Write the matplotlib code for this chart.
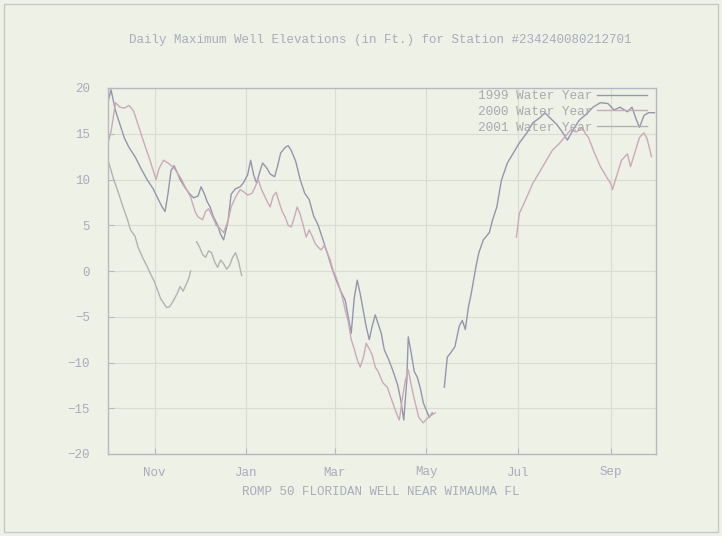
import numpy as np
import matplotlib
matplotlib.use("Agg")
import matplotlib.pyplot as plt
from matplotlib.patches import Rectangle

# ---------------- data (day 0 = Oct 1 of the water year) ----------------
nan = np.nan
wy1999_days = [0, 2, 5, 8, 11, 14, 18, 22, 26, 30, 33, 36, 38, 40, 42, 44, 46, 48, 51, 54,
               57, 60, 62, 64, 66, 68, 70, 73, 75, 77, 80, 82, 85, 88, 90, 93, 95, 97, 99, 101,
               103, 106, 108, 111, 113, 115, 118, 120, 122, 125, 128, 131, 134, 137, 140, 143,
               146, 149, 152, 155, 158, 160, 162, 164, 166, 168, 170, 172, 174, 176, 178, 180,
               182, 184, 187, 190, 193, 195, 197, 199, 200, 202, 204, 206, 208, 210, 212, 214,
               216, 220, 224, 226, 228, 231, 234, 236, 238, 240, 242, 245, 247, 250, 254, 256,
               259, 262, 266, 270, 274, 279, 283, 288, 291, 294, 299, 303, 306, 310, 314, 319,
               323, 328, 333, 337, 341, 346, 349, 352, 354, 357, 360, 364]
wy1999_vals = [18.5, 19.8, 17.5, 16.0, 14.5, 13.5, 12.5, 11.2, 10.0, 9.0, 8.0, 7.0, 6.5, 8.5,
               11.0, 11.5, 10.8, 10.0, 9.2, 8.5, 8.0, 8.2, 9.2, 8.5, 7.6, 7.0, 6.0, 5.0, 4.0,
               3.4, 5.5, 8.4, 9.0, 9.2, 9.6, 10.5, 12.1, 10.5, 9.6, 10.8, 11.8, 11.2, 10.6,
               10.3, 11.5, 12.9, 13.5, 13.7, 13.2, 12.0, 10.0, 8.5, 7.8, 6.0, 5.0, 3.5, 2.0,
               0.4, -1.0, -2.2, -3.2, -5.0, -6.8, -3.0, -1.0, -2.5, -4.3, -6.1, -7.5, -6.0,
               -4.8, -5.8, -6.8, -8.6, -9.7, -11.0, -12.5, -14.1, -16.3, -12.0, -7.2, -9.0,
               -11.0, -11.6, -12.8, -14.4, -15.2, -16.0, -15.5, nan, -12.7, -9.4, -9.0, -8.3,
               -6.0, -5.4, -6.4, -4.0, -2.4, 0.4, 2.0, 3.4, 4.2, 5.5, 7.0, 9.9, 11.8, 12.9,
               14.0, 15.1, 16.2, 16.8, 17.3, 16.8, 16.0, 15.1, 14.3, 15.5, 16.5, 17.2, 17.9,
               18.4, 18.3, 17.6, 17.9, 17.4, 17.9, 16.5, 15.7, 17.0, 17.3, 17.3]

wy2000_days = [0, 2, 5, 8, 11, 14, 17, 19, 22, 25, 28, 30, 32, 34, 37, 40, 43, 46, 49, 52,
               55, 58, 60, 63, 65, 67, 70, 72, 75, 77, 80, 82, 85, 88, 90, 93, 96, 98, 100,
               102, 104, 106, 108, 110, 112, 114, 116, 118, 120, 122, 124, 126, 128, 130, 132,
               134, 136, 138, 140, 142, 144, 146, 148, 150, 152, 154, 156, 158, 160, 162, 164,
               166, 168, 170, 172, 174, 176, 178, 180, 183, 186, 189, 192, 194, 196, 198, 200,
               202, 204, 207, 210, 212, 215, 218, 240, 272, 274, 276, 279, 283, 287, 292, 296,
               301, 304, 308, 312, 316, 318, 320, 324, 328, 332, 335, 336, 339, 342, 346, 348,
               351, 354, 357, 359, 361, 362]
wy2000_vals = [14.0, 15.2, 18.4, 17.9, 17.8, 18.1, 17.5, 16.5, 15.0, 13.5, 12.1, 11.0, 10.0,
               11.2, 12.1, 11.8, 11.4, 10.8, 10.0, 9.0, 8.1, 6.5, 5.9, 5.6, 6.5, 6.8, 5.8, 5.0,
               4.6, 4.2, 5.5, 7.0, 8.1, 8.9, 8.7, 8.3, 8.5, 9.2, 10.0, 9.0, 8.3, 7.6, 7.0, 8.2,
               8.6, 7.5, 6.5, 5.9, 5.0, 4.8, 5.8, 7.0, 6.2, 5.0, 3.7, 4.5, 3.8, 3.0, 2.6, 2.3,
               2.8, 2.0, 1.2, 0.0, -0.7, -1.7, -2.8, -4.3, -5.5, -7.5, -8.5, -9.7, -10.5, -9.5,
               -7.9, -8.5, -9.2, -10.5, -11.0, -12.2, -12.7, -14.1, -15.5, -16.3, -14.0, -12.0,
               -10.8, -12.5, -14.0, -16.0, -16.6, -16.2, -15.8, -15.5, nan, 3.7, 6.3, 7.0, 8.1,
               9.6, 10.7, 12.1, 13.2, 14.0, 14.6, 15.4, 15.2, 15.7, 15.0, 14.6, 12.9, 11.4,
               10.3, 9.5, 8.9, 10.5, 12.1, 12.8, 11.4, 13.0, 14.6, 15.1, 14.5, 13.2, 12.5]

wy2001_days = [0, 2, 4, 7, 10, 13, 15, 18, 20, 23, 26, 28, 31, 33, 35, 37, 39, 41, 43, 46,
               48, 50, 52, 54, 55, 57, 59, 61, 63, 65, 67, 69, 71, 73, 75, 77, 79, 81, 83, 85,
               87, 89]
wy2001_vals = [12.1, 11.0, 9.9, 8.5, 7.0, 5.6, 4.5, 3.8, 2.6, 1.5, 0.5, -0.2, -1.2, -2.1, -3.0,
               -3.5, -4.0, -3.9, -3.4, -2.5, -1.7, -2.2, -1.5, -0.7, 0.0, nan, 3.2, 2.6, 1.8,
               1.5, 2.2, 2.0, 1.0, 0.4, 1.2, 0.8, 0.2, 0.6, 1.5, 2.0, 1.0, -0.5]

series_labels = ["1999 Water Year", "2000 Water Year", "2001 Water Year"]
month_ticks = [31, 92, 151, 212, 273, 335]
month_labels = ["Nov", "Jan", "Mar", "May", "Jul", "Sep"]
y_ticks = [20, 15, 10, 5, 0, -5, -10, -15, -20]

title = "Daily Maximum Well Elevations (in Ft.) for Station #234240080212701"
xlabel = "ROMP 50 FLORIDAN WELL NEAR WIMAUMA FL"

# ---------------- style ----------------
bg = "#eef2e6"
txt = "#a9aabd"
grid_c = "#d8dcd1"
frame_c = "#b6b8c2"
colors = ["#9495ae", "#cba9b8", "#b2b2b0"]
font = ["Liberation Mono", "DejaVu Sans Mono"]

fig = plt.figure(figsize=(7.22, 5.36), dpi=100, facecolor=bg)
ax = fig.add_axes([108 / 722, 1 - 454 / 536, (656 - 108) / 722, (454 - 88) / 536])
ax.set_facecolor(bg)

for d, v, c, lab in zip([wy1999_days, wy2000_days, wy2001_days],
                        [wy1999_vals, wy2000_vals, wy2001_vals], colors, series_labels):
    ax.plot(d, v, color=c, lw=1.0, label=lab)

ax.set_xlim(0, 365)
ax.set_ylim(-20, 20)
ax.set_xticks(month_ticks)
ax.set_xticklabels(month_labels)
ax.set_yticks(y_ticks)
ax.grid(True, color=grid_c, lw=0.8)
ax.set_axisbelow(True)
for s in ax.spines.values():
    s.set_color(frame_c)
    s.set_linewidth(1.0)
ax.tick_params(colors=frame_c, labelcolor=txt, length=4, direction="in")
ax.tick_params(axis="x", pad=9)
ax.tick_params(axis="y", pad=13)
for lbl in ax.get_xticklabels() + ax.get_yticklabels():
    lbl.set_fontfamily(font)
    lbl.set_fontsize(9)

fig.text(0.527, 1 - 40 / 536, title, ha="center", va="center", color=txt,
         family=font, fontsize=9)
fig.text(0.527, 1 - 492 / 536, xlabel, ha="center", va="center", color=txt,
         family=font, fontsize=9)

leg = ax.legend(loc="upper right", bbox_to_anchor=(1.005, 1.025), frameon=False,
                markerfirst=False, handlelength=3.9, handletextpad=0.4,
                labelspacing=0.28, prop={"family": font, "size": 9.2})
for t in leg.get_texts():
    t.set_color("#a8a8b0")

fig.patches.append(Rectangle((4 / 722, 4 / 536), 714 / 722, 528 / 536, transform=fig.transFigure,
                             fill=False, edgecolor="#c6c8c2", lw=1.0))

fig.savefig("out.png", dpi=100, facecolor=bg)
